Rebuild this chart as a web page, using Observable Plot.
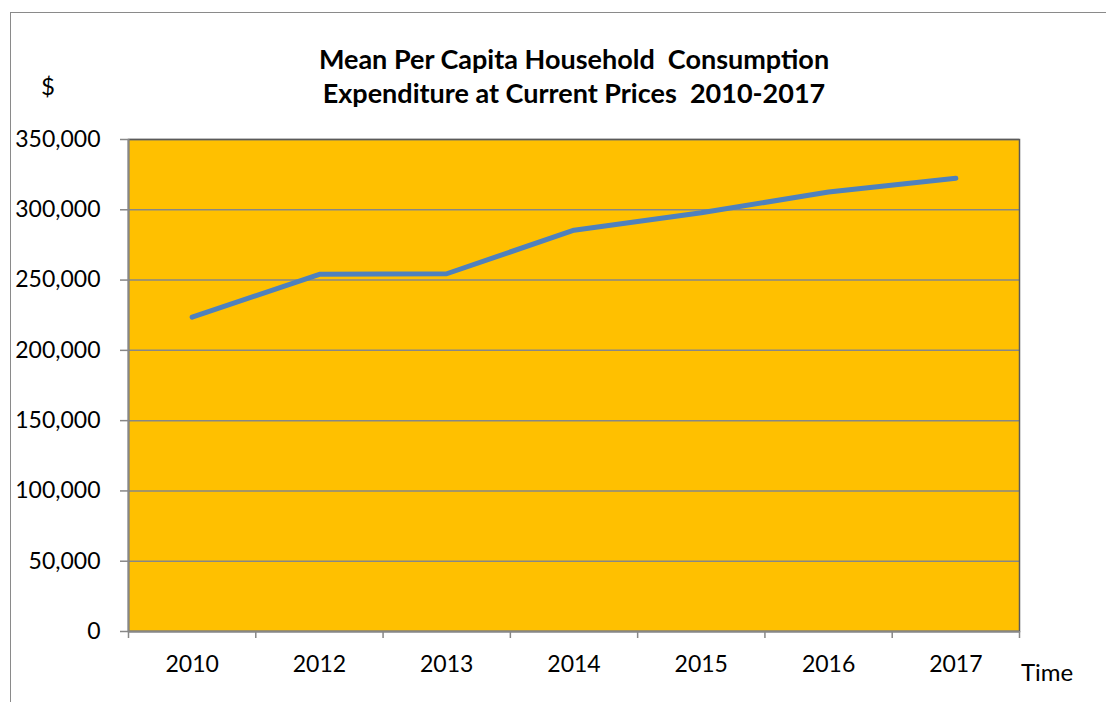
<!DOCTYPE html>
<html>
<head>
<meta charset="utf-8">
<script src="https://cdn.jsdelivr.net/npm/d3@7"></script>
<script src="https://cdn.jsdelivr.net/npm/@observablehq/plot@0.6"></script>
<style>
  html, body { margin: 0; padding: 0; background: #fff; }
  #wrap { position: relative; width: 1106px; height: 702px; overflow: hidden; font-family: Lato, "Open Sans", sans-serif; color: #000; }
  #border { position: absolute; left: 10px; top: 12px; width: 1200px; height: 800px; border-top: 1.5px solid #8a8a8a; border-left: 1.5px solid #8a8a8a; box-sizing: border-box; }
  #chart { position: absolute; left: 0; top: 0; }
  .title { position: absolute; left: 0; width: 1148px; text-align: center; font-weight: bold; font-size: 27px; white-space: pre; line-height: 1; }
  #unit { position: absolute; left: 41px; top: 74px; font-size: 24px; line-height: 1; }
  #xlab { position: absolute; left: 1021px; top: 660px; font-size: 24px; line-height: 1; }
</style>
</head>
<body>
<div id="wrap">
  <div id="border"></div>
  <div id="chart"></div>
  <div class="title" id="t1" style="top:45px"></div>
  <div class="title" id="t2" style="top:79px"></div>
  <div id="unit"></div>
  <div id="xlab"></div>
</div>
<script>
// ---- data ----
const years = ["2010", "2012", "2013", "2014", "2015", "2016", "2017"];
const values = [223600, 254100, 254500, 285500, 297900, 312600, 322400];
const yTicks = [0, 50000, 100000, 150000, 200000, 250000, 300000, 350000];
const titleLines = ["Mean Per Capita Household  Consumption", "Expenditure at Current Prices  2010-2017"];
const yUnit = "$";
const xName = "Time";

// ---- table built from the arrays ----
const rows = years.map((y, i) => ({pos: i + 0.5, year: y, value: values[i]}));
const centers = years.map((y, i) => i + 0.5);
const bounds = d3.range(years.length + 1);

const chart = Plot.plot({
  width: 1106,
  height: 702,
  marginLeft: 128,
  marginRight: 87,
  marginTop: 139,
  marginBottom: 71,
  style: {fontFamily: "Lato, 'Open Sans', sans-serif", fontSize: "23px", background: "transparent", color: "#000", overflow: "visible"},
  x: {type: "linear", domain: [0, years.length], axis: null},
  y: {domain: [0, 350000], axis: null},
  marks: [
    Plot.frame({fill: "#FFC000"}),
    Plot.gridY(yTicks, {stroke: "#878787", strokeOpacity: 1, strokeWidth: 1.5}),
    Plot.frame({stroke: "#5a5a5a", strokeWidth: 1.5}),
    Plot.ruleX([0], {stroke: "#878787", strokeWidth: 2}),
    Plot.ruleY([0], {stroke: "#878787", strokeWidth: 2}),
    Plot.line(rows, {x: "pos", y: "value", stroke: "#4F81BD", strokeWidth: 5, strokeLinecap: "round", strokeLinejoin: "round"}),
    Plot.axisY(yTicks, {anchor: "left", tickSize: 8, tickPadding: 20, stroke: "#878787", strokeWidth: 1.5, fill: "#000", tickFormat: d3.format(","), label: null}),
    Plot.axisX(bounds, {anchor: "bottom", tickSize: 7, stroke: "#878787", strokeWidth: 1.5, tickFormat: () => "", label: null}),
    Plot.axisX(centers, {anchor: "bottom", tickSize: 0, tickPadding: 24, fill: "#000", tickFormat: (d) => years[Math.round(d - 0.5)], label: null})
  ]
});
document.getElementById("chart").appendChild(chart);
document.getElementById("t1").textContent = titleLines[0];
document.getElementById("t2").textContent = titleLines[1];
document.getElementById("unit").textContent = yUnit;
document.getElementById("xlab").textContent = xName;
</script>
</body>
</html>
